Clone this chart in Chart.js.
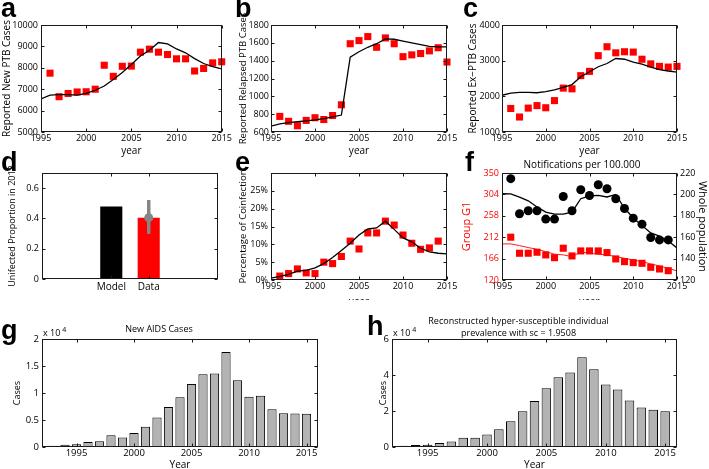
<!DOCTYPE html>
<html>
<head>
<meta charset="utf-8">
<script src="https://cdn.jsdelivr.net/npm/chart.js@4.4.1/dist/chart.umd.min.js"></script>
<style>
  body { margin: 0; background: #fff; }
  #fig { position: relative; width: 709px; height: 469px; overflow: hidden; background: #fff; }
  .clip { position: absolute; overflow: hidden; }
  .clip canvas { position: absolute; left: 0; top: 0; }
  .tag { position: absolute; font: bold 27px "Liberation Sans", Arial, sans-serif; line-height: 1; color: #000; }
</style>
</head>
<body>
<div id="fig">
  <div class="clip" style="left:0;top:0;width:233px;height:158px"><canvas id="ca" width="233" height="158"></canvas></div>
  <div class="clip" style="left:233px;top:0;width:230px;height:158px"><canvas id="cb" width="230" height="158"></canvas></div>
  <div class="clip" style="left:463px;top:0;width:246px;height:158px"><canvas id="cc" width="246" height="158"></canvas></div>
  <div class="clip" style="left:0;top:140px;width:233px;height:160px"><canvas id="cd" width="233" height="160"></canvas></div>
  <div class="clip" style="left:233px;top:140px;width:230px;height:160px"><canvas id="ce" width="230" height="168"></canvas></div>
  <div class="clip" style="left:455px;top:140px;width:254px;height:160px"><canvas id="cf" width="254" height="168"></canvas></div>
  <div class="clip" style="left:0;top:300px;width:360px;height:169px"><canvas id="cg" width="360" height="174"></canvas></div>
  <div class="clip" style="left:360px;top:300px;width:349px;height:169px"><canvas id="ch" width="349" height="174"></canvas></div>

  <div class="tag" style="left:1px;top:-5px">a</div>
  <div class="tag" style="left:235px;top:-5px">b</div>
  <div class="tag" style="left:463px;top:-5px">c</div>
  <div class="tag" style="left:1px;top:149px">d</div>
  <div class="tag" style="left:235px;top:149px">e</div>
  <div class="tag" style="left:465px;top:149px">f</div>
  <div class="tag" style="left:1px;top:317px">g</div>
  <div class="tag" style="left:367px;top:313px">h</div>
</div>

<script>
// ---- data ----
const modelYears = [1995, 1996, 1997, 1998, 1999, 2000, 2001, 2002, 2003, 2004, 2005, 2006, 2007, 2008, 2009, 2010, 2011, 2012, 2013, 2014, 2015];
const dataYears = [1996, 1997, 1998, 1999, 2000, 2001, 2002, 2003, 2004, 2005, 2006, 2007, 2008, 2009, 2010, 2011, 2012, 2013, 2014, 2015];
const barYears = [1993, 1994, 1995, 1996, 1997, 1998, 1999, 2000, 2001, 2002, 2003, 2004, 2005, 2006, 2007, 2008, 2009, 2010, 2011, 2012, 2013, 2014, 2015];

// a - new PTB
const newPtbData = [7750, 6650, 6800, 6870, 6880, 7000, 8120, 7600, 8070, 8080, 8730, 8870, 8730, 8620, 8420, 8420, 7850, 7970, 8230, 8280];
const newPtbModel = [6550, 6720, 6750, 6750, 6720, 6800, 6950, 7150, 7450, 7780, 8150, 8550, 8820, 9180, 9120, 8880, 8700, 8430, 8200, 8050, 7950];
// b - relapsed PTB
const relapsedData = [775, 720, 670, 730, 760, 740, 785, 905, 1590, 1625, 1670, 1550, 1655, 1590, 1445, 1465, 1480, 1510, 1545, 1385];
const relapsedModel = [665, 690, 705, 715, 725, 735, 750, 770, 790, 1440, 1500, 1550, 1590, 1645, 1640, 1620, 1600, 1580, 1560, 1555, 1555];
// c - ex-PTB
const exPtbData = [1660, 1420, 1670, 1740, 1680, 1880, 2230, 2210, 2580, 2700, 3140, 3390, 3220, 3250, 3240, 3040, 2910, 2840, 2820, 2840];
const exPtbModel = [2030, 2090, 2110, 2110, 2100, 2130, 2180, 2250, 2330, 2550, 2690, 2830, 2920, 3060, 3040, 2960, 2900, 2820, 2750, 2710, 2680];
// d - unifected proportion 2013
const propCategories = ['Model', 'Data'];
const propValues = [0.478, 0.405];
const propErrLow = 0.298;
const propErrHigh = 0.522;
// e - coinfection (%)
const coinfYears = [1996, 1997, 1998, 1999, 2000, 2001, 2002, 2003, 2004, 2005, 2006, 2007, 2008, 2009, 2010, 2011, 2012, 2013, 2014];
const coinfData = [1.1, 1.8, 3.1, 2.0, 1.8, 5.0, 4.6, 6.6, 10.9, 8.7, 13.2, 13.2, 16.5, 15.4, 12.6, 10.3, 8.6, 9.0, 10.9];
const coinfModel = [0.5, 1.0, 1.6, 2.5, 2.7, 3.4, 4.6, 6.3, 8.3, 10.3, 12.6, 14.3, 14.6, 16.5, 14.2, 11.8, 10.7, 8.9, 7.9, 7.5, 7.3];
// f - notifications per 100.000
const notifYears = [1996, 1997, 1998, 1999, 2000, 2001, 2002, 2003, 2004, 2005, 2006, 2007, 2008, 2009, 2010, 2011, 2012, 2013, 2014];
const wholeData = [214.7, 181.9, 184.7, 184.7, 176.9, 176.9, 198.0, 184.7, 204.3, 199.0, 209.0, 205.3, 195.9, 186.8, 177.8, 172.2, 159.7, 157.5, 157.5];
const wholeModel = [200.6, 200.5, 197.5, 194.0, 188.3, 183.5, 181.5, 181.5, 183.5, 196.0, 198.5, 199.0, 197.6, 200.0, 187.0, 178.0, 171.0, 164.0, 161.0, 156.5, 150.0];
const groupData = [212, 177.5, 177.5, 179.7, 173.9, 168, 188.3, 171.7, 182.5, 182.5, 182.5, 178.9, 165.3, 159.5, 157.3, 155.9, 147.3, 143.7, 140];
const groupModel = [197.6, 197.6, 194, 189.7, 186, 181, 175.4, 174, 170.2, 180.4, 177.5, 175.4, 174, 170.2, 166.7, 163, 159.5, 154.5, 150.2, 145.2, 139.4];
// g - new AIDS cases
const aidsCases = [250, 430, 500, 930, 1050, 2170, 1740, 2600, 3730, 5470, 7390, 9190, 11680, 13480, 13600, 17580, 12360, 9320, 9500, 7000, 6270, 6210, 6150];
// h - hyper-susceptible prevalence
const hyperCases = [700, 1100, 1300, 2200, 3000, 5200, 5200, 6900, 9900, 14300, 19900, 25500, 32600, 38800, 41400, 49900, 43200, 34800, 31900, 25900, 22000, 20700, 19900];

// tick labels
const yearTicks = [1995, 2000, 2005, 2010, 2015];
const newPtbTicks = [5000, 6000, 7000, 8000, 9000, 10000];
const relapsedTicks = [600, 800, 1000, 1200, 1400, 1600, 1800];
const exPtbTicks = [1000, 2000, 3000, 4000];
const propTicks = [0, 0.2, 0.4, 0.6];
const coinfTicks = [0, 5, 10, 15, 20, 25];
const groupTicks = [120, 166, 212, 258, 304, 350];
const wholeTicks = [120, 140, 160, 180, 200, 220];
const aidsTicks = [0, 5000, 10000, 15000, 20000];
const hyperTicks = [0, 20000, 40000, 60000];

// ---- styling ----
const RED = '#f00';
Chart.defaults.font.family = '"Open Sans", "Noto Sans", sans-serif';
Chart.defaults.font.size = 10;
Chart.defaults.color = '#000';
Chart.defaults.animation = false;
Chart.defaults.plugins.legend.display = false;
Chart.defaults.plugins.tooltip.enabled = false;

function pts(xs, ys) { return xs.map((x, i) => ({ x: x, y: ys[i] })); }
function setTicks(list) { return s => { s.ticks = list.map(v => ({ value: v })); }; }

// box with inward tick marks on all four sides
const matlabAxes = {
  id: 'matlabAxes',
  afterDraw(chart) {
    const { ctx, chartArea: a, scales } = chart;
    const tl = 3;
    const L = Math.round(a.left) + 0.5, R = Math.round(a.right) - 0.5;
    const T = Math.round(a.top) + 0.5, B = Math.round(a.bottom) - 0.5;
    ctx.save();
    ctx.strokeStyle = '#1a1a1a';
    ctx.lineWidth = 1;
    ctx.strokeRect(L, T, R - L, B - T);
    ctx.beginPath();
    scales.x.ticks.forEach(t => {
      const p = Math.round(scales.x.getPixelForValue(t.value)) + 0.5;
      ctx.moveTo(p, B); ctx.lineTo(p, B - tl);
      ctx.moveTo(p, T); ctx.lineTo(p, T + tl);
    });
    const left = scales.y, right = scales.y2 || scales.y;
    left.ticks.forEach(t => {
      const p = Math.round(left.getPixelForValue(t.value)) + 0.5;
      ctx.moveTo(L, p); ctx.lineTo(L + tl, p);
    });
    right.ticks.forEach(t => {
      const p = Math.round(right.getPixelForValue(t.value)) + 0.5;
      ctx.moveTo(R, p); ctx.lineTo(R - tl, p);
    });
    ctx.stroke();
    ctx.restore();
  }
};

// "x 10^4" above the y axis
const expLabel = {
  id: 'expLabel',
  afterDraw(chart) {
    const { ctx, chartArea: a } = chart;
    ctx.save();
    ctx.fillStyle = '#000';
    ctx.textBaseline = 'alphabetic';
    ctx.font = '9px "Open Sans", sans-serif';
    ctx.fillText('x 10', a.left + 1, a.top - 3);
    const w = ctx.measureText('x 10').width;
    ctx.font = '7px "Open Sans", sans-serif';
    ctx.fillText('4', a.left + 3 + w, a.top - 7);
    ctx.restore();
  }
};

function xAxis(min, max, ticks, height, title, titlePad, size) {
  return {
    type: 'linear', min: min, max: max, offset: false,
    afterBuildTicks: setTicks(ticks),
    afterFit: s => { s.height = height; },
    grid: { display: false, drawTicks: false }, border: { display: false },
    ticks: { padding: 1, maxRotation: 0, autoSkip: false, font: { size: size || 9 }, callback: v => String(v) },
    title: { display: !!title, text: title, padding: titlePad, font: { size: 10 } }
  };
}

function yAxis(min, max, ticks, width, title, titleX, opts) {
  opts = opts || {};
  const size = opts.size || 9;
  const tsize = opts.titleSize || 10;
  return {
    type: 'linear', min: min, max: max, position: opts.position || 'left',
    afterBuildTicks: setTicks(ticks),
    afterFit: s => { s.width = width; },
    grid: { display: false, drawTicks: false }, border: { display: false },
    ticks: { padding: opts.pad || 3, autoSkip: false, color: opts.color || '#000', font: { size: size }, callback: opts.fmt || (v => String(v)) },
    title: { display: true, text: title, color: opts.color || '#000', font: { size: tsize, lineHeight: 1.2 },
             padding: { top: titleX - tsize * 0.6, bottom: 0 } }
  };
}

function squares(xs, ys, axis) {
  return { data: pts(xs, ys), showLine: false, pointStyle: 'rect', pointRadius: 5,
           pointBackgroundColor: RED, pointBorderWidth: 0, clip: false, yAxisID: axis || 'y' };
}
function model(xs, ys, color, width, axis) {
  return { data: pts(xs, ys), borderColor: color, borderWidth: width, pointRadius: 0,
           tension: 0, fill: false, yAxisID: axis || 'y' };
}

function seriesPanel(id, data, mod, yMin, yMax, yTicks, yTitle, titleX, area, fmt) {
  new Chart(document.getElementById(id), {
    type: 'line',
    data: { datasets: [model(modelYears, mod, '#000', 1.3), squares(data.x, data.y)] },
    options: {
      responsive: false,
      layout: { autoPadding: false, padding: { left: 0, top: area.top, right: area.right, bottom: 0 } },
      scales: {
        x: xAxis(1995, 2015, yearTicks, area.xh, 'year', { top: 0, bottom: area.tpb }),
        y: yAxis(yMin, yMax, yTicks, area.yw, yTitle, titleX, { fmt: fmt, pad: area.pad, titleSize: area.ts })
      }
    },
    plugins: [matlabAxes]
  });
}

// a, b, c
seriesPanel('ca', { x: dataYears, y: newPtbData }, newPtbModel, 5000, 10000, newPtbTicks,
  'Reported New PTB Cases', 7.5, { top: 25, right: 5, xh: 26, yw: 41, tpb: 1 });
seriesPanel('cb', { x: dataYears, y: relapsedData }, relapsedModel, 600, 1800, relapsedTicks,
  'Reported Relapsed PTB Cases', 10.5, { top: 25, right: 16, xh: 26, yw: 38, tpb: 1, pad: 2, ts: 9.5 });
seriesPanel('cc', { x: dataYears, y: exPtbData }, exPtbModel, 1000, 4000, exPtbTicks,
  'Reported Ex\u2212PTB Cases', 10, { top: 25, right: 32, xh: 26, yw: 39, tpb: 1, pad: 2 });

// e
seriesPanel('ce', { x: coinfYears, y: coinfData }, coinfModel, 0, 30, coinfTicks,
  'Percentage of Coinfection', 10, { top: 33, right: 16, xh: 28, yw: 38, tpb: 0, ts: 9.5 }, v => v + '%');

// d
new Chart(document.getElementById('cd'), {
  type: 'bar',
  data: {
    datasets: [
      { type: 'line', data: [{ x: 2, y: propValues[1] }], showLine: false, pointRadius: 4.5,
        pointBackgroundColor: '#858585', pointBorderWidth: 0 },
      { type: 'line', data: [{ x: 2, y: propErrLow }, { x: 2, y: propErrHigh }], borderColor: '#858585',
        borderWidth: 3.5, pointRadius: 0 },
      { type: 'bar', data: pts([1, 2], propValues), backgroundColor: ['#000', RED],
        categoryPercentage: 1, barPercentage: 0.59 }
    ]
  },
  options: {
    responsive: false,
    layout: { autoPadding: false, padding: { left: 0, top: 33, right: 15, bottom: 0 } },
    scales: {
      x: {
        type: 'linear', min: -0.85, max: 3.85, offset: false,
        afterBuildTicks: setTicks([1, 2]),
        afterFit: s => { s.height = 21; },
        grid: { display: false, drawTicks: false }, border: { display: false },
        ticks: { padding: 2, autoSkip: false, maxRotation: 0, callback: v => propCategories[v - 1] }
      },
      y: yAxis(0, 0.7, propTicks, 42, 'Unifected Proportion in 2013', 12, { titleSize: 9 })
    }
  },
  plugins: [matlabAxes]
});

// f
new Chart(document.getElementById('cf'), {
  type: 'line',
  data: {
    datasets: [
      model(modelYears, wholeModel, '#000', 1.3, 'y2'),
      { data: pts(notifYears, wholeData), showLine: false, pointRadius: 4.5, pointBackgroundColor: '#000',
        pointBorderWidth: 0, clip: false, yAxisID: 'y2' },
      model(modelYears, groupModel, RED, 0.9, 'y'),
      squares(notifYears, groupData, 'y')
    ]
  },
  options: {
    responsive: false,
    layout: { autoPadding: false, padding: 0 },
    plugins: {
      title: { display: true, text: 'Notifications per 100.000', font: { size: 10, weight: 'normal', lineHeight: 1.2 },
               color: '#000', padding: { top: 19, bottom: 2 } }
    },
    scales: {
      x: xAxis(1995, 2015, yearTicks, 28, 'year', { top: 0, bottom: 0 }),
      y: yAxis(120, 350, groupTicks, 47, 'Group G1', 12, { color: RED, titleSize: 11 }),
      y2: yAxis(120, 220, wholeTicks, 32, 'Whole population', 6.6, { position: 'right', titleSize: 11 })
    }
  },
  plugins: [matlabAxes]
});

// g, h
function casesPanel(id, values, yMax, yTicks, title, area) {
  new Chart(document.getElementById(id), {
    type: 'bar',
    data: {
      datasets: [{ data: pts(barYears, values), backgroundColor: '#b3b3b3', borderColor: '#000',
                   borderWidth: 1, borderSkipped: false, categoryPercentage: 1, barPercentage: 0.8 }]
    },
    options: {
      responsive: false,
      layout: { autoPadding: false, padding: { left: 0, top: 0, right: area.right, bottom: 0 } },
      plugins: {
        title: { display: true, text: title, font: { size: 9, weight: 'normal', lineHeight: area.lh },
                 color: '#000', padding: { top: area.tpt, bottom: area.tpb } }
      },
      scales: {
        x: xAxis(1992, 2016, yearTicks, 27, 'Year', { top: 0, bottom: 3.3 }, 9.5),
        y: yAxis(0, yMax, yTicks, area.yw, 'Cases', area.titleX, { size: 9.5, titleSize: 9, fmt: v => String(v / 10000) })
      }
    },
    plugins: [matlabAxes, expLabel]
  });
}

casesPanel('cg', aidsCases, 20000, aidsTicks, 'New AIDS Cases',
  { right: 42, yw: 42, titleX: 17, lh: 1.2, tpt: 23.6, tpb: 4.6 });
casesPanel('ch', hyperCases, 60000, hyperTicks,
  ['Reconstructed hyper-susceptible individual', 'prevalence with sc = 1.9508'],
  { right: 32, yw: 32, titleX: 23, lh: 1.28, tpt: 16, tpb: 0 });
</script>
</body>
</html>
